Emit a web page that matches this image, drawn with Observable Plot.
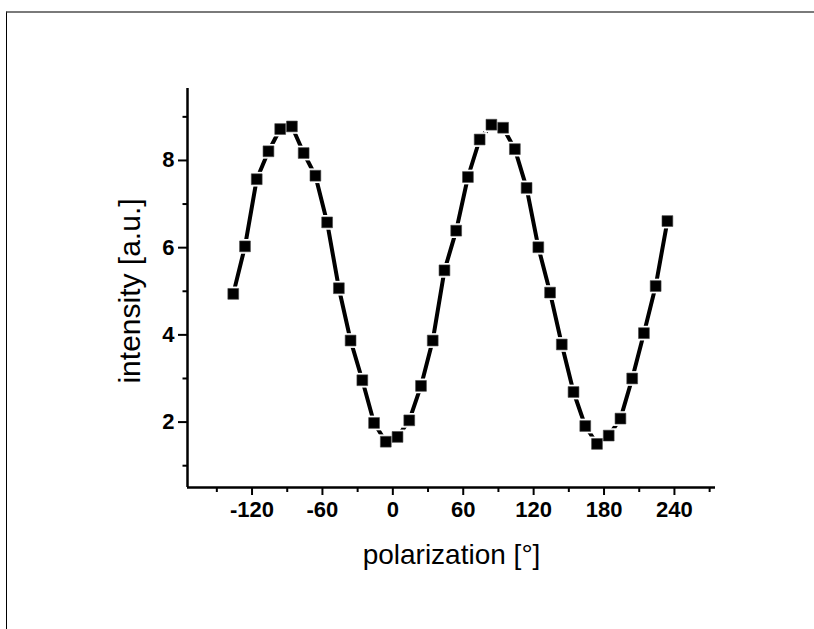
<!DOCTYPE html>
<html>
<head>
<meta charset="utf-8">
<script src="https://cdn.jsdelivr.net/npm/d3@7"></script>
<script src="https://cdn.jsdelivr.net/npm/@observablehq/plot@0.6"></script>
<style>
  html, body { margin: 0; padding: 0; background: #fff; }
  #wrap { position: relative; width: 814px; height: 629px; overflow: hidden; }
  #border { position: absolute; left: 6px; top: 11px; right: 0; bottom: 0;
            border-top: 2px solid #7a7a7a; border-left: 1px solid #000; pointer-events: none; }
</style>
</head>
<body>
<div id="wrap"><div id="border"></div></div>
<script>
// Polarization angle (degrees)
const angle = [-136, -126, -116, -106, -96, -86, -76, -66, -56, -46, -36, -26, -16, -6,
  4, 14, 24, 34, 44, 54, 64, 74, 84, 94, 104, 114, 124, 134, 144, 154, 164, 174,
  184, 194, 204, 214, 224, 234];
// Intensity (a.u.)
const intensity = [4.94, 6.03, 7.57, 8.21, 8.72, 8.78, 8.17, 7.65, 6.58, 5.07, 3.87, 2.96, 1.98, 1.55,
  1.66, 2.04, 2.83, 3.87, 5.48, 6.39, 7.62, 8.48, 8.82, 8.75, 8.26, 7.37, 6.01, 4.97, 3.78, 2.69, 1.91, 1.50,
  1.69, 2.08, 3.00, 4.04, 5.12, 6.61];
const xMajorTicks = [-120, -60, 0, 60, 120, 180, 240];
const xMinorTicks = [-150, -90, -30, 30, 90, 150, 210, 270];
const yMajorTicks = [2, 4, 6, 8];
const yMinorTicks = [1, 3, 5, 7, 9];
const xLabel = "polarization [°]";
const yLabel = "intensity [a.u.]";

const data = angle.map((a, i) => ({angle: a, intensity: intensity[i]}));
const xDomain = [-175, 275];
const yDomain = [0.5, 9.65];
const tickFont = {fontSize: 22, fontWeight: "bold", fill: "#000"};

const chart = Plot.plot({
  width: 814,
  height: 629,
  marginLeft: 187,
  marginRight: 99,
  marginTop: 88,
  marginBottom: 142,
  x: {domain: xDomain},
  y: {domain: yDomain},
  style: {fontFamily: "'Liberation Sans', Arial, sans-serif", background: "transparent", color: "#000"},
  marks: [
    Plot.axisX({ticks: xMajorTicks, tickSize: 8, strokeWidth: 2, tickFormat: () => "", label: null}),
    Plot.axisX({ticks: xMinorTicks, tickSize: 5, strokeWidth: 2, tickFormat: () => "", label: null}),
    Plot.axisY({ticks: yMajorTicks, tickSize: 9, strokeWidth: 2, tickFormat: () => "", label: null}),
    Plot.axisY({ticks: yMinorTicks, tickSize: 4.5, strokeWidth: 2, tickFormat: () => "", label: null}),
    Plot.text(xMajorTicks, {x: d => d, text: d => String(d), frameAnchor: "bottom", dy: 22, lineAnchor: "middle", textAnchor: "middle", ...tickFont}),
    Plot.text(yMajorTicks, {y: d => d, text: d => String(d), frameAnchor: "left", dx: -13, lineAnchor: "middle", textAnchor: "end", ...tickFont}),
    Plot.ruleX([xDomain[0]], {strokeWidth: 2.5}),
    Plot.ruleY([yDomain[0]], {strokeWidth: 2.5}),
    Plot.line(data, {x: "angle", y: "intensity", stroke: "#000", strokeWidth: 4}),
    Plot.dot(data, {x: "angle", y: "intensity", symbol: "square", r: 8.3, fill: "#fff", stroke: "none"}),
    Plot.dot(data, {x: "angle", y: "intensity", symbol: "square", r: 6.1, fill: "#000", stroke: "#444", strokeWidth: 0.6}),
    Plot.text([xLabel], {frameAnchor: "bottom", dy: 68, lineAnchor: "middle", textAnchor: "middle", fontSize: 28, fontWeight: "normal"}),
    Plot.text([yLabel], {frameAnchor: "left", dx: -57, dy: 3, rotate: -90, lineAnchor: "middle", textAnchor: "middle", fontSize: 30, fontWeight: "normal"})
  ]
});
document.getElementById("wrap").appendChild(chart);
</script>
</body>
</html>
